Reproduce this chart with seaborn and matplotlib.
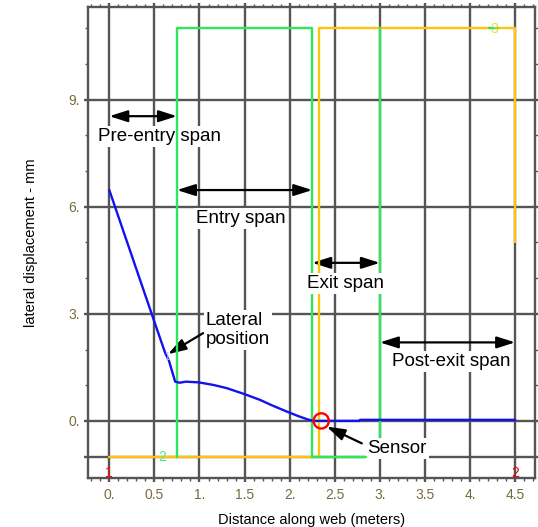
import matplotlib
matplotlib.use("Agg")
import matplotlib.pyplot as plt
import seaborn as sns
import pandas as pd
from matplotlib.ticker import MultipleLocator, FixedLocator

# lateral position of the web (blue)
lat_x = [0.0, 0.47, 0.62, 0.66, 0.73, 0.78, 0.85, 0.99, 1.15, 1.30, 1.50, 1.67,
         1.80, 1.97, 2.10, 2.19, 2.26, 2.35, 2.77, 2.78, 4.5]
lat_y = [6.47, 3.0, 1.90, 1.70, 1.10, 1.07, 1.10, 1.08, 1.01, 0.92, 0.75, 0.59,
         0.44, 0.26, 0.13, 0.05, 0.0, 0.0, 0.0, 0.03, 0.03]

# roller/span outlines
green_x = [0.75, 0.75, 2.25, 2.25, 2.85]
green_y = [-1, 11, 11, -1, -1]
green2_x = [3.0, 3.0]
green2_y = [11, -0.45]
green3_x = [4.21, 4.31]
green3_y = [11, 11]
yellow_x = [0.0, 2.33, 2.33, 4.5, 4.5]
yellow_y = [-1, -1, 11, 11, 5.0]

sensor_x = [2.35]
sensor_y = [0.0]

x_ticks = [0, 0.5, 1, 1.5, 2, 2.5, 3, 3.5, 4, 4.5]
x_labels = ["0.", "0.5", "1.", "1.5", "2.", "2.5", "3.", "3.5", "4.", "4.5"]
y_ticks = [-1, 0, 3, 6, 9]
y_labels = ["", "0.", "3.", "6.", "9."]

sns.set_style("white")
plt.rcParams['font.family'] = ['Liberation Sans', 'DejaVu Sans']
plt.rcParams['text.color'] = 'black'
plt.rcParams['axes.labelcolor'] = 'black'

GRID = '#555555'
fig = plt.figure(figsize=(5.38, 5.27), dpi=100)
ax = fig.add_axes([0.1636, 0.093, 0.8308, 0.8937])

df_lat = pd.DataFrame({'x': lat_x, 'y': lat_y})
sns.lineplot(data=df_lat, x='x', y='y', sort=False, estimator=None,
             color='#1212ee', lw=1.7, ax=ax, zorder=4)
sns.lineplot(x=yellow_x, y=yellow_y, sort=False, estimator=None,
             color='#ffc20e', lw=1.7, ax=ax, zorder=3)
sns.lineplot(x=green_x, y=green_y, sort=False, estimator=None,
             color='#2ee85a', lw=1.7, ax=ax, zorder=3)
sns.lineplot(x=green2_x, y=green2_y, sort=False, estimator=None,
             color='#2ee85a', lw=1.7, ax=ax, zorder=3)
sns.lineplot(x=green3_x, y=green3_y, sort=False, estimator=None,
             color='#2ee85a', lw=1.7, ax=ax, zorder=3)
sns.scatterplot(x=sensor_x, y=sensor_y, marker='o', s=120, facecolor='none',
                edgecolor='red', linewidth=1.7, ax=ax, zorder=5)

ax.set_xlim(-0.236, 4.72)
ax.set_ylim(-1.6, 11.6)

ax.xaxis.set_major_locator(FixedLocator(x_ticks))
ax.set_xticklabels(x_labels)
ax.yaxis.set_major_locator(FixedLocator(y_ticks))
ax.set_yticklabels(y_labels)
ax.xaxis.set_minor_locator(MultipleLocator(0.1))
ax.yaxis.set_minor_locator(MultipleLocator(1))

ax.set_axisbelow(True)
ax.grid(True, which='major', color=GRID, lw=1.7)
for s in ax.spines.values():
    s.set_color(GRID)
    s.set_linewidth(1.7)
ax.tick_params(which='major', direction='out', length=3, width=1.7, color=GRID,
               labelsize=10, labelcolor='#7a6a40', pad=3,
               top=True, right=True, bottom=True, left=True)
ax.tick_params(which='minor', direction='out', length=2, width=1, color=GRID,
               top=True, right=True, bottom=True, left=True)
ax.tick_params(axis='x', which='major', pad=4)

ax.set_xlabel('Distance along web (meters)', fontsize=10.5, labelpad=8)
ax.set_ylabel('lateral displacement - mm', fontsize=10.5, labelpad=22)

# span arrows and labels
arrow = dict(arrowstyle='<|-|>,head_length=1.1,head_width=0.35', color='black',
             lw=1.6, shrinkA=0, shrinkB=0)
box = dict(fc='white', ec='none', pad=1.5)
spans = [
    ((0.0, 8.54), (0.75, 8.54), (0.56, 7.96), 'Pre-entry span', 1.5),
    ((0.75, 6.47), (2.25, 6.47), (1.46, 5.68), 'Entry span', 1.5),
    ((2.25, 4.43), (3.0, 4.43), (2.62, 3.86), 'Exit span', 6),
    ((3.0, 2.2), (4.5, 2.2), (3.79, 1.66), 'Post-exit span', 1.5),
]
for a, b, t, s, z in spans:
    ax.annotate('', xy=b, xytext=a, arrowprops=arrow, zorder=2)
    ax.text(t[0], t[1], s, fontsize=13.5, ha='center', va='center',
            bbox=box, zorder=z)

one_arrow = dict(arrowstyle='-|>,head_length=1.1,head_width=0.35', color='black',
                 lw=1.6, shrinkA=0, shrinkB=0)
ax.annotate('', xy=(0.65, 1.87), xytext=(1.04, 2.46), arrowprops=one_arrow, zorder=2)
ax.text(1.07, 2.55, 'Lateral\nposition', fontsize=13.5, ha='left', va='center',
        linespacing=1.2, bbox=box, zorder=1.5)
ax.annotate('', xy=(2.41, -0.16), xytext=(2.80, -0.63), arrowprops=one_arrow, zorder=2)
ax.text(3.19, -0.77, 'Sensor', fontsize=13.5, ha='center', va='center',
        bbox=box, zorder=1.5)

# point labels
ax.text(0.0, -1.47, '1', color='red', fontsize=10, ha='center', va='center', zorder=6)
ax.text(4.5, -1.47, '2', color='red', fontsize=10, ha='center', va='center', zorder=6)
ax.text(0.59, -1.02, '2', color='#44ee88', fontsize=10, ha='center', va='center', zorder=6)
ax.text(4.27, 10.97, '3', color='#ffd040', fontsize=10, ha='center', va='center', zorder=6)
ax.text(0.64, 1.8, '1', color='#b8b8ff', fontsize=7, ha='center', va='center', zorder=6)

plt.savefig('out.png', dpi=100)
